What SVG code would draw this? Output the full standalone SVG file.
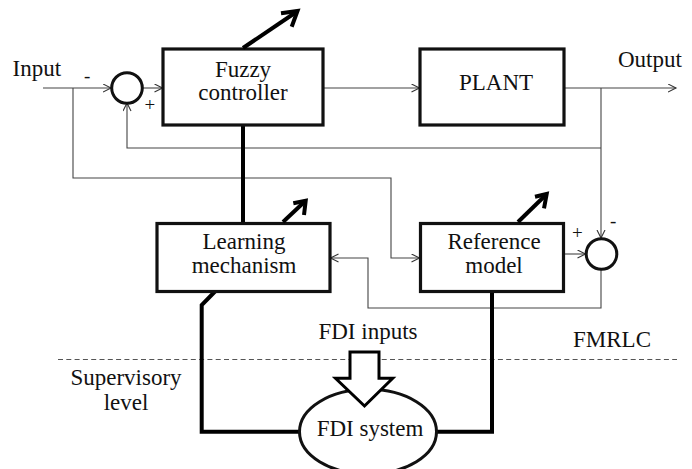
<svg xmlns="http://www.w3.org/2000/svg" width="692" height="469" viewBox="0 0 692 469" font-family="Liberation Serif, Times New Roman, DejaVu Serif, serif">
  <style>
    text { font-size: 23px; fill: #111; }
    .mid { text-anchor: middle; }
    .sign { font-size: 19px; }
    .box { fill: #fff; stroke: #111; stroke-width: 3.2; }
    .sum { fill: #fff; stroke: #111; stroke-width: 3; }
    .thin { fill: none; stroke: #444; stroke-width: 1.1; }
    .thick { fill: none; stroke: #000; stroke-width: 4; stroke-linejoin: miter; }
    .adapt { fill: none; stroke: #000; stroke-width: 4; stroke-linejoin: miter; stroke-linecap: butt; }
    .dash { fill: none; stroke: #555; stroke-width: 1.1; stroke-dasharray: 5 3.3; }
  </style>
  <defs>
    <marker id="open" markerUnits="userSpaceOnUse" markerWidth="10" markerHeight="10" refX="8.5" refY="4.5" orient="auto">
      <path d="M0.5,0.5 L8.5,4.5 L0.5,8.5" fill="none" stroke="#333" stroke-width="1.1"/>
    </marker>
  </defs>

  <!-- level separator -->
  <line class="dash" x1="58" y1="359.5" x2="677" y2="359.5"/>

  <!-- signal connectors -->
  <g id="connectors">
    <path class="thin" d="M43,88 H111" marker-end="url(#open)"/>
    <path class="thin" d="M142.5,88 H162.5" marker-end="url(#open)"/>
    <path class="thin" d="M323,88 H419.5" marker-end="url(#open)"/>
    <path class="thin" d="M564,88 H676" marker-end="url(#open)"/>
    <path class="thin" d="M601,88 V238" marker-end="url(#open)"/>
    <path class="thin" d="M601,148 H127 V103" marker-end="url(#open)"/>
    <path class="thin" d="M73,88 V178 H391 V258 H419.5" marker-end="url(#open)"/>
    <path class="thin" d="M563,254 H585.5" marker-end="url(#open)"/>
    <path class="thin" d="M601,269.5 V308 H368 V258 H330.5" marker-end="url(#open)"/>
    <!-- heavy supervisory links -->
    <path class="thick" d="M243,125 V223.5"/>
    <path class="thick" d="M215,291.5 L201.7,305 V431.7 H300"/>
    <path class="thick" d="M436,431.7 H492 V291.5"/>
  </g>

  <g id="sum-input">
    <circle class="sum" cx="127" cy="88" r="15.3"/>
    <text class="sign" x="84" y="82">-</text>
    <text class="sign" x="144.5" y="111">+</text>
  </g>

  <g id="fuzzy-controller">
    <rect class="box" x="163" y="49" width="160" height="76"/>
    <text class="mid" x="243" y="77">Fuzzy</text>
    <text class="mid" x="243" y="100">controller</text>
    <path class="adapt" d="M243,48 L297,11.5"/>
    <path class="adapt" d="M281,13.3 L297.5,11 L291.7,26.7"/>
  </g>

  <g id="plant">
    <rect class="box" x="420" y="49" width="144" height="76"/>
    <text class="mid" x="496" y="90">PLANT</text>
  </g>

  <g id="learning-mechanism">
    <rect class="box" x="157" y="223.5" width="173" height="68"/>
    <text class="mid" x="244" y="249">Learning</text>
    <text class="mid" x="244" y="273">mechanism</text>
    <path class="adapt" d="M283,222 L305,201.3"/>
    <path class="adapt" d="M293.3,203.3 L305.7,200.7 L304,215"/>
  </g>

  <g id="reference-model">
    <rect class="box" x="420.5" y="223.5" width="143" height="68"/>
    <text class="mid" x="494" y="248.5">Reference</text>
    <text class="mid" x="494" y="273">model</text>
    <path class="adapt" d="M518,222 L546,194.7"/>
    <path class="adapt" d="M535,196.7 L546.7,194 L544,208.3"/>
  </g>

  <g id="sum-error">
    <circle class="sum" cx="601.5" cy="254" r="15.3"/>
    <text class="sign" x="572" y="239">+</text>
    <text class="sign" x="610" y="227">-</text>
  </g>

  <g id="fdi-system">
    <ellipse class="sum" cx="368" cy="431.7" rx="68.5" ry="42.4"/>
    <text class="mid" x="370" y="436">FDI system</text>
  </g>

  <g id="fdi-inputs">
    <text class="mid" x="368" y="339">FDI inputs</text>
    <path d="M350,352 H379 V378.3 H392.7 L364.5,406 L335.5,378.3 H350 Z" fill="#fff" stroke="#000" stroke-width="3" stroke-linejoin="miter"/>
  </g>

  <g id="labels">
    <text x="12.5" y="76">Input</text>
    <text x="618" y="67">Output</text>
    <text class="mid" x="612" y="347">FMRLC</text>
    <text class="mid" x="126" y="385">Supervisory</text>
    <text class="mid" x="126" y="410">level</text>
  </g>
</svg>
